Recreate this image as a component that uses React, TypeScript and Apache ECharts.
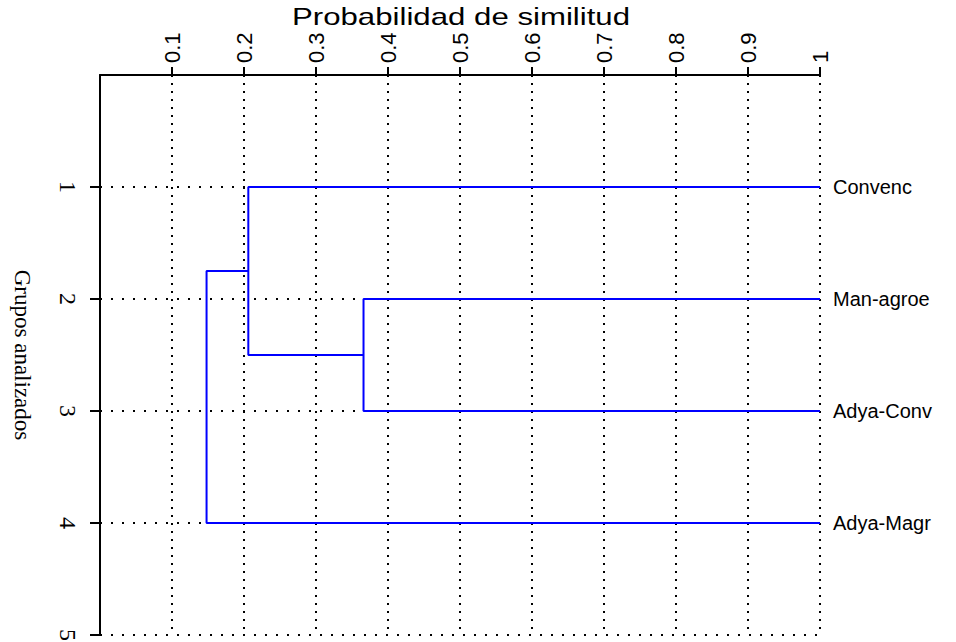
import React, { useEffect, useRef } from "react";
import * as echarts from "echarts";

// ---- data ----
const leafNames = ["Convenc", "Man-agroe", "Adya-Conv", "Adya-Magr"];
const leafPositions = [1, 2, 3, 4];
// merges in R hclust style: negative = leaf (1-based), positive = earlier merge (1-based)
const mergeLeft = [-2, -1, 2];
const mergeRight = [-3, 1, -4];
const mergeHeights = [0.366, 0.206, 0.148];
const xTicks = [0.1, 0.2, 0.3, 0.4, 0.5, 0.6, 0.7, 0.8, 0.9, 1];
const yTicks = [1, 2, 3, 4, 5];

const BLUE = "#0000FF";

function buildSegments(): number[][][] {
  const nodes: { y: number; h: number }[] = [];
  const get = (id: number) =>
    id < 0 ? { y: leafPositions[-id - 1], h: 1 } : nodes[id - 1];
  const segs: number[][][] = [];
  for (let i = 0; i < mergeHeights.length; i++) {
    const a = get(mergeLeft[i]);
    const b = get(mergeRight[i]);
    const h = mergeHeights[i];
    segs.push([
      [a.h, a.y],
      [h, a.y],
      [h, b.y],
      [b.h, b.y],
    ]);
    nodes.push({ y: (a.y + b.y) / 2, h });
  }
  return segs;
}

export default function App() {
  const ref = useRef<HTMLDivElement>(null);
  useEffect(() => {
    if (!ref.current) return;
    const chart = echarts.init(ref.current, undefined, { renderer: "svg" });
    const segs = buildSegments();
    chart.setOption({
      animation: false,
      backgroundColor: "#fff",
      grid: { left: 100, top: 75, right: 136, bottom: 7, outerBoundsMode: "none", containLabel: false },
      graphic: [
        {
          type: "text",
          x: 461,
          y: 17,
          scaleX: 1.3,
          style: {
            text: "Probabilidad de similitud",
            font: '24px "Liberation Sans", Arial, sans-serif',
            fill: "#000",
            textAlign: "center",
            textVerticalAlign: "middle",
          },
        },
      ],
      xAxis: {
        type: "value",
        position: "top",
        min: 0,
        max: 1,
        interval: 0.1,
        axisLine: { show: true, onZero: false, lineStyle: { color: "#000", width: 2 } },
        axisTick: {
          show: true,
          length: 8,
          lineStyle: { color: "#000", width: 2 },
          customValues: xTicks,
        },
        axisLabel: {
          rotate: -90,
          margin: 12,
          fontSize: 22,
          fontFamily: '"Liberation Sans", Arial, sans-serif',
          color: "#000",
          customValues: xTicks,
          formatter: (v: number) => String(Math.round(v * 10) / 10),
        },
        splitLine: {
          show: true,
          lineStyle: { color: "#000", width: 2, type: [2, 6] },
        },
      },
      yAxis: [
        {
          type: "value",
          min: 0,
          max: 5,
          interval: 1,
          inverse: true,
          name: "Grupos analizados",
          nameLocation: "middle",
          nameRotate: -90,
          nameGap: 66,
          nameTextStyle: {
            fontSize: 23,
            fontFamily: '"Liberation Serif", "Times New Roman", serif',
            color: "#000",
          },
          axisLine: { show: true, onZero: false, lineStyle: { color: "#000", width: 2 } },
          axisTick: {
            show: true,
            length: 10,
            lineStyle: { color: "#000", width: 2 },
            customValues: yTicks,
          },
          axisLabel: {
            rotate: -90,
            margin: 20,
            fontSize: 24,
            fontFamily: '"Liberation Serif", "Times New Roman", serif',
            color: "#000",
            customValues: yTicks,
          },
          splitLine: {
            show: true,
            lineStyle: { color: "#000", width: 2, type: [2, 9] },
          },
        },
        {
          type: "value",
          position: "right",
          min: 0,
          max: 5,
          interval: 1,
          inverse: true,
          axisLine: { show: false },
          axisTick: { show: false },
          splitLine: { show: false },
          axisLabel: {
            margin: 13,
            fontSize: 20,
            fontFamily: '"Liberation Sans", Arial, sans-serif',
            color: "#000",
            formatter: (v: number) => {
              const i = leafPositions.indexOf(v);
              return i >= 0 ? leafNames[i] : "";
            },
          },
        },
      ],
      series: segs.map((s, i) => ({
        type: "line",
        name: "merge" + (i + 1),
        data: s,
        symbol: "none",
        z: 5,
        lineStyle: { color: BLUE, width: 2 },
      })),
    });
    return () => chart.dispose();
  }, []);
  return (
    <div
      ref={ref}
      style={{ position: "absolute", left: 0, top: 0, width: 956, height: 642 }}
    />
  );
}
